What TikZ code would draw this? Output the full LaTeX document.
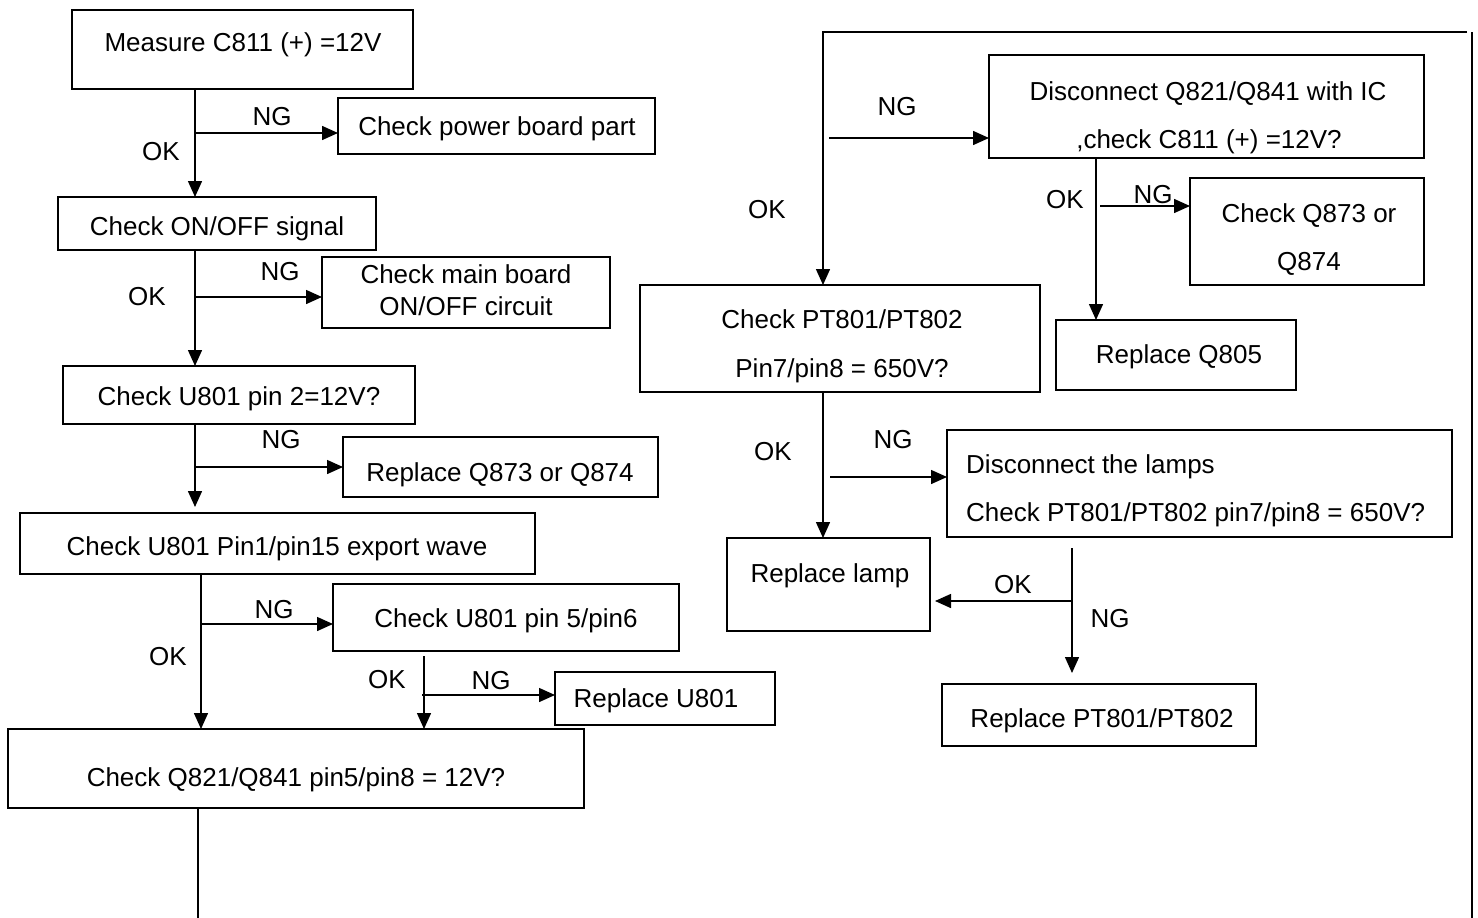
\documentclass[tikz,border=0pt]{standalone}
\usepackage{fontspec}
\setmainfont{Liberation Sans}
\usetikzlibrary{arrows.meta}
\begin{document}
\begin{tikzpicture}[x=1pt,y=-1pt,
  box/.style={draw,line width=1.9pt,inner sep=0pt,outer sep=0pt},
  txt/.style={anchor=base,inner sep=0pt,font=\fontsize{26}{31}\selectfont},
  ltxt/.style={anchor=base west,inner sep=0pt,font=\fontsize{26}{31}\selectfont},
  ln/.style={line width=1.5pt},
  arr/.style={line width=1.5pt,-{Triangle[length=16pt,width=14pt]}}]
\fill[white] (0,0) rectangle (1478,918);
\useasboundingbox (0,0) rectangle (1478,918);
% ---------- left column boxes ----------
\node[box,minimum width=341pt,minimum height=79pt] (b1) at (242.5,49.5) {};
\node[box,minimum width=317pt,minimum height=56pt] (b2) at (496.5,126) {};
\node[box,minimum width=318pt,minimum height=53pt] (b3) at (217,223.5) {};
\node[box,minimum width=288pt,minimum height=71pt] (b4) at (466,292.5) {};
\node[box,minimum width=352pt,minimum height=58pt] (b5) at (239,395) {};
\node[box,minimum width=315pt,minimum height=60pt] (b6) at (500.5,467) {};
\node[box,minimum width=515pt,minimum height=61pt] (b7) at (277.5,543.5) {};
\node[box,minimum width=346pt,minimum height=67pt] (b8) at (506,617.5) {};
\node[box,minimum width=220pt,minimum height=53pt] (b9) at (665,698.5) {};
\node[box,minimum width=576pt,minimum height=79pt] (b10) at (296,768.5) {};
% ---------- right column boxes ----------
\node[box,minimum width=435pt,minimum height=103pt] (b11) at (1206.5,106.5) {};
\node[box,minimum width=234pt,minimum height=107pt] (b12) at (1307,231.5) {};
\node[box,minimum width=400pt,minimum height=107pt] (b13) at (840,338.5) {};
\node[box,minimum width=240pt,minimum height=70pt] (b14) at (1176,355) {};
\node[box,minimum width=505pt,minimum height=107pt] (b15) at (1199.5,483.5) {};
\node[box,minimum width=203pt,minimum height=93pt] (b16) at (828.5,584.5) {};
\node[box,minimum width=314pt,minimum height=62pt] (b17) at (1099,715) {};
% ---------- box texts ----------
\node[txt] (t1) at (243,51) {Measure C811 (+) =12V};
\node[txt] (t2) at (497,135) {Check power board part};
\node[txt] (t3) at (217,235) {Check ON/OFF signal};
\node[txt] (t4a) at (466,283) {Check main board};
\node[txt] (t4b) at (466,315) {ON/OFF circuit};
\node[txt] (t5) at (239,405) {Check U801 pin 2=12V?};
\node[txt] (t6) at (500,481) {Replace Q873 or Q874};
\node[txt] (t7) at (277,555) {Check U801 Pin1/pin15 export wave};
\node[txt] (t8) at (506,627) {Check U801 pin 5/pin6};
\node[txt] (t9) at (656,707) {Replace U801};
\node[txt] (t10) at (296,786) {Check Q821/Q841 pin5/pin8 = 12V?};
\node[txt] (t11a) at (1208,100) {Disconnect Q821/Q841 with IC};
\node[txt] (t11b) at (1209,148) {,check C811 (+) =12V?};
\node[txt] (t12a) at (1309,222) {Check Q873 or};
\node[txt] (t12b) at (1309,270) {Q874};
\node[txt] (t13a) at (842,328) {Check PT801/PT802};
\node[txt] (t13b) at (842,377) {Pin7/pin8 = 650V?};
\node[txt] (t14) at (1179,363) {Replace Q805};
\node[ltxt] (t15a) at (966,473) {Disconnect the lamps};
\node[ltxt] (t15b) at (966,521) {Check PT801/PT802 pin7/pin8 = 650V?};
\node[txt] (t16) at (830,582) {Replace lamp};
\node[txt] (t17) at (1102,727) {Replace PT801/PT802};
% ---------- OK / NG labels ----------
\node[txt] (ng1) at (272,125) {NG};
\node[txt] (ok1) at (161,160) {OK};
\node[txt] (ng2) at (280,280) {NG};
\node[txt] (ok2) at (147,305) {OK};
\node[txt] (ng3) at (281,448) {NG};
\node[txt] (ng4) at (274,618) {NG};
\node[txt] (ok4) at (168,665) {OK};
\node[txt] (ok5) at (387,688) {OK};
\node[txt] (ng5) at (491,689) {NG};
\node[txt] (ng6) at (897,115) {NG};
\node[txt] (ok6) at (767,218) {OK};
\node[txt] (ok7) at (1065,208) {OK};
\node[txt] (ng7) at (1153,203) {NG};
\node[txt] (ok8) at (773,460) {OK};
\node[txt] (ng8) at (893,448) {NG};
\node[txt] (ok9) at (1013,593) {OK};
\node[txt] (ng9) at (1110,627) {NG};
% ---------- junction coordinates ----------
\coordinate (j1) at (195,133);
\coordinate (j2) at (195,297);
\coordinate (j3) at (195,467);
\coordinate (j4) at (201,624);
\coordinate (j5) at (424,695);
\coordinate (j5s) at (424,656);
\coordinate (j6) at (823,138);
\coordinate (j6s) at (829,138);
\coordinate (j7) at (1096,206);
\coordinate (j7s) at (1100,206);
\coordinate (j8) at (823,477);
\coordinate (j8s) at (830,477);
\coordinate (j9) at (1072,601);
\coordinate (j9t) at (1072,548);
\coordinate (bot) at (198,918);
\coordinate (rb) at (1472,918);
\coordinate (rt) at (1472,32);
\coordinate (tr) at (1467,32);
\coordinate (tl) at (823,32);
% ---------- left connectors ----------
\draw[arr] (b1.south -| j1) -- (b3.north -| j1);
\draw[arr] (j1) -- (b2.west |- j1);
\draw[arr] (b3.south -| j2) -- (b5.north -| j2);
\draw[arr] (j2) -- (b4.west |- j2);
\draw[arr] (b5.south -| j3) -- ([yshift=6pt]b7.north -| j3);
\draw[arr] (j3) -- (b6.west |- j3);
\draw[arr] (b7.south -| j4) -- (b10.north -| j4);
\draw[arr] (j4) -- (b8.west |- j4);
\draw[arr] (j5s) -- (b10.north -| j5);
\draw[arr] ([xshift=-2pt]j5) -- (b9.west |- j5);
\draw[ln] (b10.south -| bot) -- (bot);
% ---------- right connectors ----------
\draw[ln] (rb) -- (rt);
\draw[arr] (tr) -- (tl) -- (b13.north -| tl);
\draw[arr] (j6s) -- (b11.west |- j6s);
\draw[arr] (b11.south -| j7) -- (b14.north -| j7);
\draw[arr] (j7s) -- (b12.west |- j7s);
\draw[arr] (b13.south -| j8) -- (b16.north -| j8);
\draw[arr] (j8s) -- (b15.west |- j8s);
\draw[arr] (j9t) -- ([yshift=11pt]b17.north -| j9);
\draw[arr] (j9) -- ([xshift=5pt]b16.east |- j9);
\end{tikzpicture}
\end{document}
